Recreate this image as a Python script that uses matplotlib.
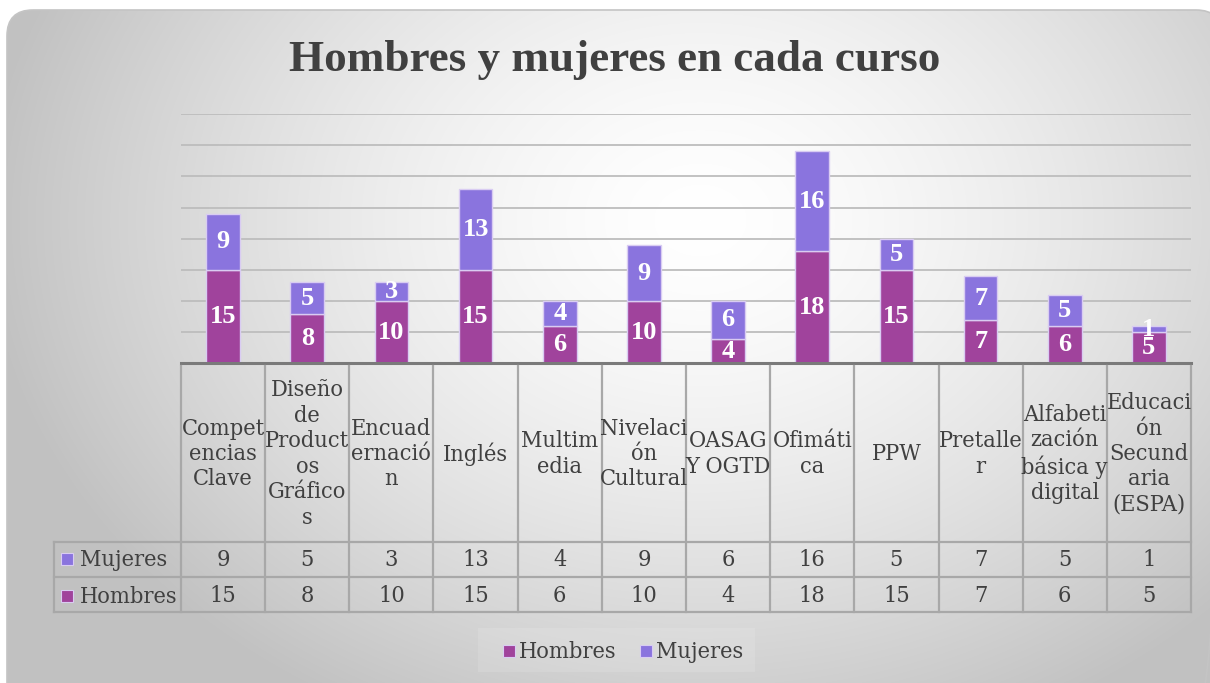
import numpy as np
import matplotlib
matplotlib.use('Agg')
import matplotlib.pyplot as plt
from matplotlib.patches import FancyBboxPatch, Rectangle
import matplotlib.transforms as mtransforms

# ---------------- data ----------------
categories = [
    "Compet\nencias\nClave",
    "Diseño\nde\nProduct\nos\nGráfico\ns",
    "Encuad\nernació\nn",
    "Inglés",
    "Multim\nedia",
    "Nivelaci\nón\nCultural",
    "OASAG\nY OGTD",
    "Ofimáti\nca",
    "PPW",
    "Pretalle\nr",
    "Alfabeti\nzación\nbásica y\ndigital",
    "Educaci\nón\nSecund\naria\n(ESPA)",
]
hombres = [15, 8, 10, 15, 6, 10, 4, 18, 15, 7, 6, 5]
mujeres = [9, 5, 3, 13, 4, 9, 6, 16, 5, 7, 5, 1]
series_names = ["Hombres", "Mujeres"]
title = "Hombres y mujeres en cada curso"

# ---------------- style ----------------
SERIF = ["Liberation Serif", "DejaVu Serif"]
TFONT = dict(family="DejaVu Serif", stretch="condensed")
FS = 16.8
C_H = "#A0439C"
C_M = "#8A74DE"
EDGE = "#D9CCF2"
TXT = "#404040"
GRID = "#bdbdbd"
TLINE = "#a8a8a8"

W, H = 1210, 683
fig = plt.figure(figsize=(W / 100, H / 100), dpi=100)
fig.patch.set_facecolor("white")

# background with radial gradient, rounded
bg = fig.add_axes([0, 0, 1, 1])
bg.set_xlim(0, W)
bg.set_ylim(H, 0)
bg.axis("off")
yy, xx = np.mgrid[0:H, 0:W]
d = np.sqrt(((xx - 700) / 720.0) ** 2 + ((yy - 220) / 560.0) ** 2)
d = np.clip(d, 0, 1)
v = (255 - 62 * d ** 1.5) / 255.0
img = np.dstack([v, v, v])
patch = FancyBboxPatch((7, 10), 1215, 700, boxstyle="round,pad=0,rounding_size=26",
                       facecolor="none", edgecolor="#c4c4c4", lw=1.2, zorder=2)
bg.add_patch(patch)
im = bg.imshow(img, extent=(0, W, H, 0), aspect="auto", zorder=0, interpolation="bilinear")
im.set_clip_path(patch)

# title
fig.text(615 / W, 1 - 60 / H, title, ha="center", va="center", fontsize=32.5,
         fontweight="bold", color=TXT, family=SERIF)

# bar axes
ax = fig.add_axes([181 / W, 1 - 363.5 / H, 1010 / W, (363.5 - 114) / H])
ax.set_xlim(-0.5, len(categories) - 0.5)
ax.set_ylim(0, 40)
ax.patch.set_alpha(0)
for s in ax.spines.values():
    s.set_visible(False)
ax.set_xticks([])
ax.set_yticks([])
for g in range(5, 41, 5):
    ax.axhline(g, color=GRID, lw=1.3, zorder=0)
ax.axhline(0, color="#7a7a7a", lw=2.2, zorder=4, clip_on=False)

x = np.arange(len(categories))
b1 = ax.bar(x, hombres, width=0.4, color=C_H, edgecolor=EDGE, lw=1.0, zorder=2)
b2 = ax.bar(x, mujeres, width=0.4, bottom=hombres, color=C_M, edgecolor=EDGE, lw=1.0, zorder=2)
for i in range(len(categories)):
    ax.text(x[i], hombres[i] / 2, str(hombres[i]), ha="center", va="center",
            color="white", fontsize=19, fontweight="bold", family=SERIF, zorder=5)
    ax.text(x[i], hombres[i] + mujeres[i] / 2, str(mujeres[i]), ha="center", va="center",
            color="white", fontsize=19, fontweight="bold", family=SERIF, zorder=5)

# overlay for table and legend
ov = fig.add_axes([0, 0, 1, 1])
ov.set_xlim(0, W)
ov.set_ylim(H, 0)
ov.axis("off")
ov.patch.set_alpha(0)
trans = mtransforms.blended_transform_factory(ax.transData, ov.transData)

n = len(categories)
for i in range(n + 1):
    ov.plot([i - 0.5, i - 0.5], [366, 612], transform=trans, color=TLINE, lw=1.6)
for yv in (542, 577, 612):
    ov.plot([54, 1191], [yv, yv], color=TLINE, lw=1.6)
ov.plot([54, 54], [542, 612], color=TLINE, lw=1.6)

for i, cat in enumerate(categories):
    ov.text(i, 454, cat, transform=trans, ha="center", va="center", fontsize=FS,
            color=TXT, linespacing=1.2, **TFONT)
    ov.text(i, 560, str(mujeres[i]), transform=trans, ha="center", va="center",
            fontsize=FS, color=TXT, **TFONT)
    ov.text(i, 596, str(hombres[i]), transform=trans, ha="center", va="center",
            fontsize=FS, color=TXT, **TFONT)

# row keys
for yc, name, col in ((559, series_names[1], C_M), (596, series_names[0], C_H)):
    ov.add_patch(Rectangle((61, yc - 6), 12, 12, facecolor=col, edgecolor=EDGE, lw=0.8))
    ov.text(80, yc + 1, name, ha="left", va="center", fontsize=FS, color=TXT, **TFONT)

# legend
ov.add_patch(Rectangle((478, 628), 277, 44, facecolor="white", alpha=0.12, edgecolor="none"))
for xs, name, col in ((503, series_names[0], C_H), (640, series_names[1], C_M)):
    ov.add_patch(Rectangle((xs, 645), 12, 12, facecolor=col, edgecolor=EDGE, lw=0.8))
    ov.text(xs + 16, 652, name, ha="left", va="center", fontsize=FS, color=TXT, **TFONT)

fig.savefig("out.png", dpi=100)
